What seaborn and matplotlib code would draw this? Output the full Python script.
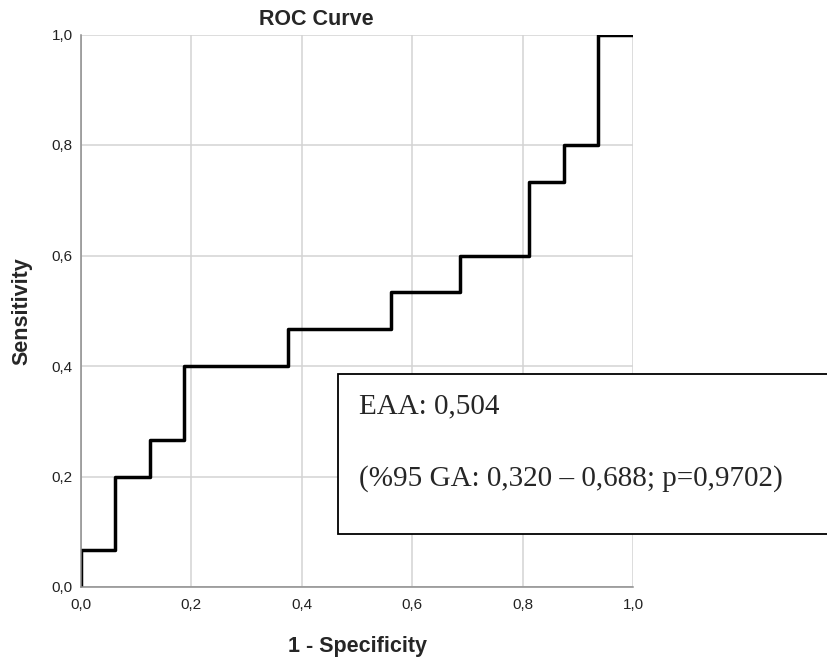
import matplotlib
matplotlib.use("Agg")
import matplotlib.pyplot as plt
from matplotlib.patches import Rectangle
from matplotlib.ticker import FuncFormatter
import seaborn as sns

# ROC step points (1 - specificity, sensitivity)
fpr = [0.0, 0.0, 0.0625, 0.0625, 0.125, 0.125, 0.1875, 0.1875, 0.375, 0.375,
       0.5625, 0.5625, 0.6875, 0.6875, 0.8125, 0.8125, 0.875, 0.875, 0.9375,
       0.9375, 1.0]
tpr = [0.0, 0.0667, 0.0667, 0.2, 0.2, 0.2667, 0.2667, 0.4, 0.4, 0.4667,
       0.4667, 0.5333, 0.5333, 0.6, 0.6, 0.7333, 0.7333, 0.8, 0.8, 1.0, 1.0]
ticks = [0.0, 0.2, 0.4, 0.6, 0.8, 1.0]

title = "ROC Curve"
x_label = "1 - Specificity"
y_label = "Sensitivity"
box_lines = ["EAA: 0,504", "(%95 GA: 0,320 \u2013 0,688; p=0,9702)"]

W, H = 828, 662

sns.set_style("white")
plt.rcParams['font.family'] = ['Liberation Sans', 'DejaVu Sans']

fig = plt.figure(figsize=(W / 100, H / 100), dpi=100)
ax = fig.add_axes([81 / W, 1 - 587 / H, 552 / W, 552.5 / H])

sns.lineplot(x=fpr, y=tpr, sort=False, estimator=None, color="black",
             linewidth=2.5, ax=ax)

ax.set_xlim(0, 1)
ax.set_ylim(0, 1)
ax.set_xticks(ticks)
ax.set_yticks(ticks)
comma = FuncFormatter(lambda v, p: f"{v:.1f}".replace(".", ","))
ax.xaxis.set_major_formatter(comma)
ax.yaxis.set_major_formatter(comma)
ax.tick_params(axis="both", length=0, labelsize=11, labelcolor="#222222")
ax.tick_params(axis="x", pad=8)
ax.tick_params(axis="y", pad=6)
ax.grid(True, color="#d3d3d3", linewidth=1.1)
ax.set_axisbelow(True)
for side in ["top", "right"]:
    ax.spines[side].set_visible(False)
for side in ["left", "bottom"]:
    ax.spines[side].set_color("#8c8c8c")
    ax.spines[side].set_linewidth(1.1)

fig.text(316.5 / W, 1 - 25 / H, title, ha="center", va="baseline",
         fontsize=15.5, fontweight="bold")
fig.text(357 / W, 1 - 652 / H, x_label, ha="center", va="baseline",
         fontsize=15.5, fontweight="bold")
fig.text(22 / W, 1 - 311 / H, y_label, ha="center", va="center",
         rotation=90, fontsize=15.5, fontweight="bold")

# annotation box, running off the right edge of the image
box = Rectangle((338 / W, 1 - 534 / H), 0.75, 160 / H, transform=fig.transFigure,
                facecolor="white", edgecolor="black", linewidth=1.3,
                clip_on=False, zorder=5)
fig.patches.append(box)
fig.text(359 / W, 1 - 413 / H, box_lines[0], ha="left", va="baseline",
         fontsize=21, family=["Liberation Serif", "DejaVu Serif"], zorder=6)
fig.text(359 / W, 1 - 486 / H, box_lines[1], ha="left", va="baseline",
         fontsize=21, family=["Liberation Serif", "DejaVu Serif"], zorder=6)

fig.savefig("out.png", dpi=100)
